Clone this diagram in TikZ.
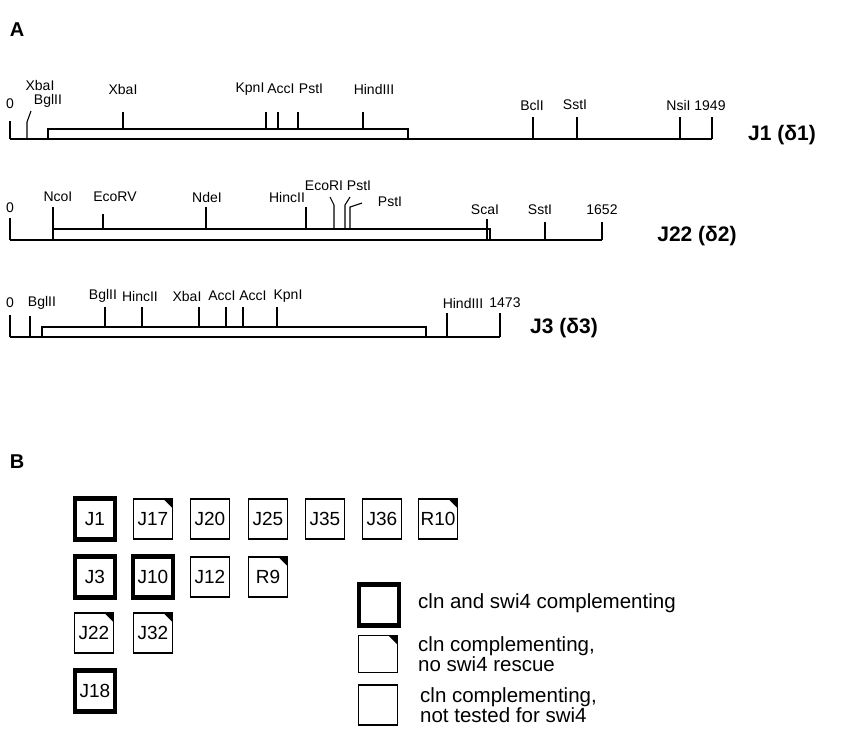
\documentclass[tikz,border=0pt]{standalone}
\usepackage{fontspec}
\setmainfont{Liberation Sans}
\usetikzlibrary{positioning}

\begin{document}
\begin{tikzpicture}[x=1pt, y=-1pt,
	every node/.style={font=\fontsize{14}{16}\selectfont, inner sep=0pt},
	site/.style={line width=1.1pt},
	map/.style={line width=1.7pt},
	panel/.style={font=\fontsize{20}{22}\selectfont\bfseries},
	construct/.style={font=\fontsize{21}{23}\selectfont\bfseries},
	clone/.style={draw, line width=1.4pt, minimum width=39pt, minimum height=40pt, font=\fontsize{19}{21}\selectfont},
	both/.style={clone, line width=4.5pt, minimum width=40pt, minimum height=41pt},
	norescue/.style={clone, path picture={\fill (path picture bounding box.north east) -- ++(-9pt,0pt) -- ++(9pt,-9pt) -- cycle;}},
	legend/.style={anchor=west, align=left, font=\fontsize{20.5}{19}\selectfont}]
	\useasboundingbox (0,0) rectangle (847,742);
	\node[panel] (A) at (17,30) {A};
	\node[panel] (B) at (17,462) {B};

	\draw[map] (10,139) -- (712,139);
	\draw[map] (48,139) rectangle (408,129);
	\draw[site] (10,121) -- (10,139);
	\draw[site] (27,139) -- (27,122) -- (31,111);
	\draw[site] (123,112) -- (123,129);
	\draw[site] (266,112) -- (266,129);
	\draw[site] (278,112) -- (278,129);
	\draw[site] (298,112) -- (298,129);
	\draw[site] (363,112) -- (363,129);
	\draw[site] (533,117) -- (533,139);
	\draw[site] (577,117) -- (577,139);
	\draw[site] (680,117) -- (680,139);
	\draw[site] (712,117) -- (712,139);
	\node (j1zero) at (10,104) {0};
	\node (j1xba) at (40,85) {XbaI};
	\node (j1bgl) at (48,101) {BglII};
	\node (j1xbb) at (123,89) {XbaI};
	\node (j1kpn) at (250,89) {KpnI};
	\node (j1acc) at (281,89) {AccI};
	\node (j1pst) at (311,89) {PstI};
	\node (j1hin) at (374,89) {HindIII};
	\node (j1bcl) at (532,105) {BclI};
	\node (j1sst) at (575,105) {SstI};
	\node (j1end) at (696,105) {NsiI 1949};
	\node[construct] (j1) at (782,135) {J1 (δ1)};

	\draw[map] (10,240) -- (602,240);
	\draw[map] (53,240) rectangle (490,229);
	\draw[site] (10,218) -- (10,240);
	\draw[site] (53,207) -- (53,240);
	\draw[site] (103,214) -- (103,229);
	\draw[site] (206,207) -- (206,229);
	\draw[site] (306,207) -- (306,229);
	\draw[site] (330,197) -- (334,205) -- (334,229);
	\draw[site] (350,197) -- (345,205) -- (345,229);
	\draw[site] (362,203) -- (350,207) -- (350,229);
	\draw[site] (487,219) -- (487,240);
	\draw[site] (545,222) -- (545,240);
	\draw[site] (602,222) -- (602,240);
	\node (j22zero) at (10,208) {0};
	\node (j22nco) at (58,197) {NcoI};
	\node (j22eco) at (115,197) {EcoRV};
	\node (j22nde) at (207,197) {NdeI};
	\node (j22hic) at (287,197) {HincII};
	\node (j22ecr) at (324,186) {EcoRI};
	\node (j22psa) at (359,186) {PstI};
	\node (j22psb) at (390,202) {PstI};
	\node (j22sca) at (485,210) {ScaI};
	\node (j22sst) at (540,210) {SstI};
	\node (j22end) at (602,210) {1652};
	\node[construct] (j22) at (697,236) {J22 (δ2)};

	\draw[map] (10,337) -- (500,337);
	\draw[map] (42,337) rectangle (426,327);
	\draw[site] (10,315) -- (10,337);
	\draw[site] (30,316) -- (30,337);
	\draw[site] (105,307) -- (105,327);
	\draw[site] (142,307) -- (142,327);
	\draw[site] (199,307) -- (199,327);
	\draw[site] (226,307) -- (226,327);
	\draw[site] (243,307) -- (243,327);
	\draw[site] (277,307) -- (277,327);
	\draw[site] (447,313) -- (447,337);
	\draw[site] (500,313) -- (500,337);
	\node (j3zero) at (10,303) {0};
	\node (j3bga) at (42,303) {BglII};
	\node (j3bgb) at (103,296) {BglII};
	\node (j3hic) at (140,296) {HincII};
	\node (j3xba) at (187,296) {XbaI};
	\node (j3aca) at (222,296) {AccI};
	\node (j3acb) at (253,296) {AccI};
	\node (j3kpn) at (288,296) {KpnI};
	\node (j3hin) at (463,303) {HindIII};
	\node (j3end) at (505,303) {1473};
	\node[construct] (j3) at (564,328) {J3 (δ3)};

	\node[both] (cJ1) at (95,519) {J1};
	\node[norescue] (cJ17) at (153,519) {J17};
	\node[clone] (cJ20) at (210,519) {J20};
	\node[clone] (cJ25) at (268,519) {J25};
	\node[clone] (cJ35) at (325,519) {J35};
	\node[clone] (cJ36) at (382,519) {J36};
	\node[norescue] (cR10) at (438,519) {R10};
	\node[both] (cJ3) at (95,577) {J3};
	\node[both] (cJ10) at (153,577) {J10};
	\node[clone] (cJ12) at (210,577) {J12};
	\node[norescue] (cR9) at (268,577) {R9};
	\node[norescue] (cJ22) at (94,633) {J22};
	\node[norescue] (cJ32) at (153,633) {J32};
	\node[both] (cJ18) at (95,691) {J18};

	\node[both] (keyboth) at (379,605) {};
	\node[norescue, minimum height=37pt] (keyno) at (378,654) {};
	\node[clone] (keynt) at (378,705) {};
	\node[legend] (txtboth) at (418,603) {cln and swi4 complementing};
	\node[legend] (txtno) at (418,654) {cln complementing,\\no swi4 rescue};
	\node[legend] (txtnt) at (420,705) {cln complementing,\\not tested for swi4};
\end{tikzpicture}
\end{document}
